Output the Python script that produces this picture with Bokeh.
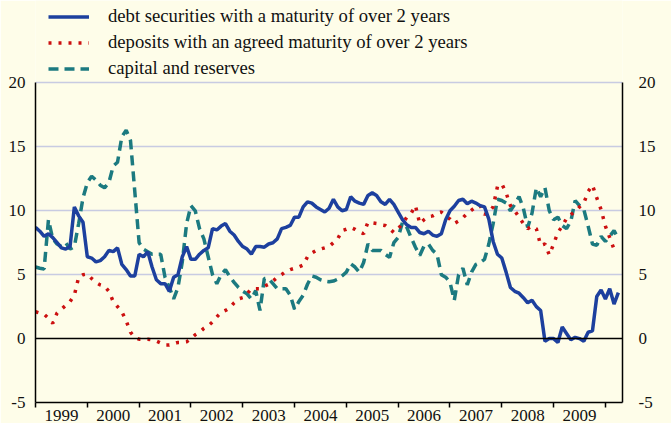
from bokeh.plotting import figure
from bokeh.models import Range1d, FixedTicker, LinearAxis, Legend, LegendItem, Span
from bokeh.embed import file_html
from bokeh.resources import INLINE

# monthly observations, Jan 1999 .. Apr 2010 (annual % changes)
start_year = 1999
n_months = 136
debt_securities = [
    8.7, 8.4, 8.0, 8.2, 7.9, 7.5, 7.1, 7.0, 7.2, 10.3, 9.6, 9.1,
    6.4, 6.3, 6.0, 6.1, 6.4, 6.9, 6.8, 7.1, 5.8, 5.4, 4.9, 4.9,
    6.6, 6.4, 6.8, 5.6, 4.6, 4.3, 4.3, 3.7, 4.8, 5.0, 6.4, 7.2,
    6.2, 6.2, 6.6, 6.9, 7.1, 8.6, 8.5, 8.8, 9.0, 8.4, 8.1, 7.6,
    7.2, 7.0, 6.6, 7.2, 7.2, 7.15, 7.4, 7.5, 7.8, 8.6, 8.7, 8.85,
    9.5, 9.5, 10.3, 10.7, 10.6, 10.3, 10.1, 9.9, 10.2, 10.9, 10.3, 10.0,
    10.1, 11.1, 10.75, 10.6, 10.5, 11.2, 11.4, 11.2, 10.7, 10.5, 10.9, 10.5,
    9.9, 9.3, 8.9, 8.7, 8.7, 8.3, 8.2, 8.4, 8.1, 8.0, 8.2, 9.3,
    10.0, 10.35, 10.8, 10.9, 10.55, 10.75, 10.6, 10.4, 10.3, 9.35, 7.6, 6.6,
    6.3, 5.2, 4.0, 3.7, 3.55, 3.2, 2.8, 3.0, 2.5, 2.2, -0.2, 0.0,
    0.0, -0.3, 0.9, 0.4, -0.1, 0.1, 0.0, -0.2, 0.5, 0.6, 3.3, 3.8,
    3.1, 3.9, 2.7, 3.6,
]
deposits = [
    2.1, 2.0, 1.9, 1.6, 1.2, 2.0, 2.3, 2.6, 2.9, 3.4, 4.8, 5.0,
    5.05, 4.7, 4.4, 4.2, 4.1, 3.7, 2.9, 2.5, 2.1, 1.4, 0.5, 0.1,
    -0.05, -0.05, -0.05, -0.1, -0.2, -0.35, -0.5, -0.5, -0.4, -0.3, -0.3, -0.25,
    0.0, 0.3, 0.5, 0.8, 1.0, 1.3, 1.7, 2.05, 2.2, 2.4, 2.8, 3.1,
    3.2, 3.5, 3.9, 3.9, 3.9, 4.1, 4.25, 4.5, 4.8, 5.0, 5.25, 5.4,
    5.5, 5.6, 5.75, 6.4, 6.7, 6.9, 7.0, 7.1, 7.2, 7.5, 7.8, 8.45,
    8.55, 8.7, 8.55, 8.35, 8.2, 9.1, 9.05, 9.0, 8.9, 8.85, 8.6, 8.3,
    8.6, 9.0, 9.5, 9.8, 10.4, 9.0, 9.3, 9.55, 9.6, 9.8, 9.9, 9.6,
    9.35, 9.0, 9.2, 9.45, 9.8, 10.05, 10.3, 10.4, 9.7, 9.9, 10.3, 11.9,
    12.1, 11.4, 10.4, 10.0, 9.5, 9.0, 8.6, 8.8, 8.6, 7.3, 7.4, 6.55,
    7.4, 8.3, 8.8, 9.4, 9.7, 9.95, 10.3, 10.6, 11.5, 12.0, 11.0, 10.1,
    8.8, 7.9, 7.0, 6.9,
]
capital_reserves = [
    5.6, 5.5, 5.45, 9.3, 7.8, 7.4, 7.2, 7.5, 7.0, 7.2, 9.0, 11.0,
    12.2, 12.7, 12.4, 12.0, 11.8, 12.2, 13.5, 13.8, 15.8, 16.3, 15.5, 11.5,
    7.5, 7.0, 6.8, 6.6, 6.6, 6.6, 4.8, 4.0, 3.1, 4.0, 6.0, 9.0,
    10.4, 10.0, 8.6, 7.8, 6.4, 5.0, 4.3, 5.0, 5.4, 4.85, 4.4, 4.0,
    3.7, 3.5, 3.1, 3.75, 2.2, 4.7, 4.7, 4.3, 3.9, 3.9, 3.9, 3.4,
    2.3, 2.9, 3.4, 4.25, 4.9, 4.8, 4.6, 4.5, 4.45, 4.5, 4.65, 4.9,
    5.2, 5.85, 5.6, 5.2, 5.95, 7.4, 6.9, 6.9, 6.9, 6.6, 6.35, 7.5,
    7.9, 9.1, 8.7, 7.9, 7.15, 6.5, 7.25, 7.4, 6.9, 6.6, 5.0, 4.8,
    4.4, 3.0, 5.0, 5.5, 4.2, 5.2, 5.8, 5.95, 6.2, 7.4, 9.0, 10.9,
    10.8, 10.6, 10.0, 10.5, 11.1, 10.2, 8.7, 9.8, 11.8, 11.1, 11.8, 10.0,
    9.3, 9.5, 8.85, 8.6, 9.2, 10.8, 10.4, 10.1, 8.8, 7.4, 7.3, 8.0,
    7.6, 8.0, 8.45, 7.8,
]
series_labels = [
    "debt securities with a maturity of over 2 years",
    "deposits with an agreed maturity of over 2 years",
    "capital and reserves",
]
year_labels = ["1999", "2000", "2001", "2002", "2003", "2004",
               "2005", "2006", "2007", "2008", "2009"]
y_ticks = [-5, 0, 5, 10, 15, 20]
y_tick_labels = ["-5", "0", "5", "10", "15", "20"]

months = [start_year + m / 12.0 for m in range(n_months)]

CREAM = "#fefde9"
FONT = "Liberation Serif"
BLUE = "#1d409e"
RED = "#cc1010"
TEAL = "#1c7a80"

# frame spans the full height; the value scale above 20 holds the legend
p = figure(width=671, height=423, output_backend="svg", toolbar_location=None,
           x_range=Range1d(1999.0, 2010.33), y_range=Range1d(-5, 26.45),
           min_border_left=35, min_border_right=49, min_border_top=0,
           min_border_bottom=21)
p.background_fill_color = CREAM
p.border_fill_color = CREAM
p.outline_line_color = None

# grid
p.xgrid.visible = False
p.ygrid.ticker = FixedTicker(ticks=[5, 10, 15, 20])
p.ygrid.grid_line_color = "#c8cbe2"
p.ygrid.grid_line_width = 1.5

p.add_layout(Span(location=0, dimension="width", line_color="black", line_width=1.5))

r_cap = p.line(months, capital_reserves, line_color=TEAL, line_width=3.5, line_dash="10 6")
r_dep = p.line(months, deposits, line_color=RED, line_width=3.5, line_dash="3 7")
r_debt = p.line(months, debt_securities, line_color=BLUE, line_width=3.5)

# x axis: labels mid-year, tick marks at year boundaries
mid_ticks = [int(y) + 0.5 for y in year_labels]
xa = p.xaxis[0]
xa.ticker = FixedTicker(ticks=mid_ticks, minor_ticks=[int(y) for y in year_labels] + [2010])
xa.major_label_overrides = {t: lab for t, lab in zip(mid_ticks, year_labels)}
xa.major_tick_line_color = None
xa.major_tick_out = 0
xa.major_tick_in = 0
xa.minor_tick_line_color = "black"
xa.minor_tick_line_width = 1.5
xa.minor_tick_out = 5
xa.minor_tick_in = 0
xa.axis_line_color = "black"
xa.axis_line_width = 1.5
xa.major_label_standoff = 2
xa.major_label_text_font = FONT
xa.major_label_text_font_size = "17px"
xa.major_label_text_color = "#111111"

def style_y(ax, standoff):
    ax.ticker = FixedTicker(ticks=y_ticks)
    ax.major_label_overrides = {t: lab for t, lab in zip(y_ticks, y_tick_labels)}
    ax.bounds = (-5, 20)
    ax.major_tick_line_color = None
    ax.major_tick_out = 0
    ax.major_tick_in = 0
    ax.minor_tick_line_color = None
    ax.axis_line_color = "black"
    ax.axis_line_width = 1.5
    ax.major_label_standoff = standoff
    ax.major_label_text_font = FONT
    ax.major_label_text_font_size = "17px"
    ax.major_label_text_color = "#111111"

style_y(p.yaxis[0], 10)
ra = LinearAxis()
style_y(ra, 16)
p.add_layout(ra, "right")

legend = Legend(items=[LegendItem(label=series_labels[0], renderers=[r_debt]),
                       LegendItem(label=series_labels[1], renderers=[r_dep]),
                       LegendItem(label=series_labels[2], renderers=[r_cap])],
                location=(13, 323), orientation="vertical",
                padding=0, margin=0, spacing=4,
                glyph_width=41, glyph_height=21, label_height=21, label_standoff=19,
                label_text_font=FONT, label_text_font_size="14pt",
                label_text_color="#111111",
                border_line_color=None, background_fill_alpha=0)
p.add_layout(legend)

open("out.html", "w").write(file_html(p, INLINE))
